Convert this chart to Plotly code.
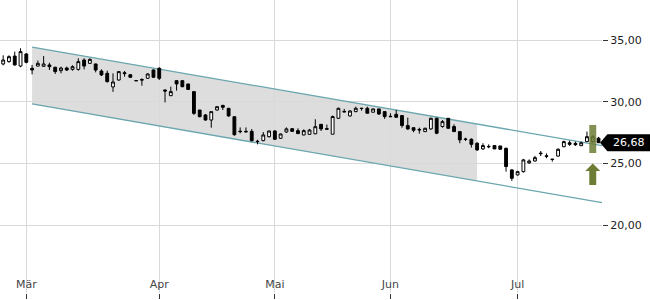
import plotly.graph_objects as go

# ---- data (trading-day index 0..103) ----
opens = [33.06,33.25,33.70,32.89,33.87,32.71,32.89,32.87,32.98,32.79,
         32.52,32.73,32.62,32.62,33.38,33.11,33.06,32.49,32.30,31.20,
         31.76,32.35,32.19,31.72,31.80,31.90,32.57,32.71,30.95,30.49,
         31.71,31.71,31.44,30.82,29.33,28.93,28.52,29.33,29.70,29.47,
         28.79,27.62,27.60,27.60,26.80,26.85,27.17,27.63,27.04,27.55,
         27.82,27.66,27.31,27.36,27.40,28.17,27.82,27.37,28.66,29.22,
         28.85,29.20,29.48,29.47,29.15,29.42,29.20,28.82,28.98,28.88,
         28.07,27.90,27.76,27.58,27.80,28.66,27.99,28.66,27.99,27.58,
         26.98,26.96,26.64,26.18,26.38,26.45,26.42,26.23,24.48,24.07,
         24.34,25.05,25.20,25.84,25.62,25.35,25.60,26.36,26.68,26.63,
         26.44,26.77,26.77,27.05]
highs = [33.76,33.76,34.06,34.33,33.92,32.98,33.33,33.70,33.16,32.84,
         32.84,32.84,32.95,33.52,33.52,33.52,33.08,32.62,32.52,32.30,
         32.49,32.49,32.19,31.74,31.90,32.30,32.62,32.79,31.00,31.22,
         31.71,31.71,31.44,30.82,29.33,29.01,29.20,29.65,29.76,29.47,
         28.79,27.92,27.92,27.79,26.92,27.55,27.66,27.70,27.42,27.92,
         27.85,27.85,27.76,27.80,28.58,28.17,28.15,28.88,29.52,29.42,
         29.33,29.60,29.48,29.60,29.42,29.42,29.20,29.07,29.33,28.88,
         28.71,27.90,27.90,27.90,28.71,28.71,28.52,28.66,28.17,27.58,
         27.09,27.04,26.72,26.64,26.55,26.45,26.42,26.28,24.53,24.40,
         25.37,25.33,25.61,26.01,25.82,25.35,26.23,26.85,26.85,26.77,
         26.77,27.58,27.30,27.15]
lows = [32.95,33.16,32.92,32.79,33.11,32.22,32.87,32.85,32.57,32.25,
        32.30,32.49,32.52,32.52,32.62,33.06,32.38,32.08,31.55,30.80,
        31.70,32.03,31.92,31.68,31.30,31.86,31.95,31.76,29.95,30.46,
        30.90,31.17,30.95,28.93,28.74,28.47,27.90,29.28,29.33,28.79,
        27.25,27.44,27.50,26.78,26.55,26.80,27.10,26.90,27.00,27.48,
        27.58,27.38,27.28,27.33,27.38,27.63,27.76,27.37,28.60,29.15,
        28.80,29.15,29.28,29.07,29.15,28.93,28.61,28.78,28.74,27.90,
        27.72,27.53,27.42,27.55,27.72,27.37,27.90,27.80,27.58,26.64,
        26.82,26.29,26.02,26.10,26.23,26.18,26.15,24.34,23.59,24.02,
        24.26,24.96,25.15,25.60,25.42,25.15,25.55,26.31,26.42,26.42,
        26.42,26.77,26.70,26.66]
closes = [33.38,33.65,32.98,34.06,33.19,32.57,33.11,33.06,32.84,32.44,
          32.73,32.57,32.84,33.25,32.89,33.43,32.57,32.17,31.63,31.60,
          32.44,32.28,31.98,31.70,31.76,32.25,31.98,31.90,30.87,30.82,
          31.44,31.22,31.00,29.06,28.79,28.52,29.20,29.60,29.55,28.85,
          27.33,27.58,27.57,26.85,26.77,27.31,27.63,26.96,27.39,27.80,
          27.60,27.42,27.66,27.71,27.98,27.80,27.78,28.80,29.47,29.18,
          29.25,29.47,29.45,29.07,29.42,29.01,28.80,28.79,28.74,28.07,
          27.80,27.69,27.72,27.85,28.66,27.45,28.39,27.85,27.58,26.91,
          26.95,26.55,26.10,26.45,26.36,26.18,26.15,24.75,23.80,24.34,
          25.29,25.20,25.47,25.80,25.58,25.33,26.15,26.77,26.55,26.52,
          26.68,27.17,27.17,26.68]

month_pos = [4, 27, 47, 67, 89]
month_labels = ["Mär", "Apr", "Mai", "Jun", "Jul"]
price_ticks = [15, 20, 25, 30, 35]
price_labels = ["15,00", "20,00", "25,00", "30,00", "35,00"]

# trend channel (index, value)
channel_x = [5, 103.6]
channel_upper = [34.43, 26.44]
channel_lower = [29.82, 21.83]
shade_x = [5, 82]
shade_upper = [34.43, 28.19]
shade_lower = [29.82, 23.58]

last_price = 26.68
last_label = "26,68"
signal_idx = 102
signal_box = [25.85, 28.12]
arrow_tip = 25.0

x = list(range(len(opens)))

GRID = "#d9d9d9"
CHAN = "#6aa6ae"
OLIVE = "#6d7d36"

fig = go.Figure()

fig.add_trace(go.Candlestick(
    x=x, open=opens, high=highs, low=lows, close=closes,
    increasing=dict(fillcolor="white", line=dict(color="black", width=1)),
    decreasing=dict(fillcolor="black", line=dict(color="black", width=1)),
    whiskerwidth=0, showlegend=False, hoverinfo="skip"))

# shaded channel (below gridlines)
spath = (f"M {shade_x[0]},{shade_upper[0]} L {shade_x[1]},{shade_upper[1]} "
         f"L {shade_x[1]},{shade_lower[1]} L {shade_x[0]},{shade_lower[0]} Z")
fig.add_shape(type="path", xref="x", yref="y", path=spath,
              fillcolor="#dddddd", line=dict(width=0), layer="below")

for ys in (channel_upper, channel_lower):
    fig.add_shape(type="line", xref="x", yref="y",
                  x0=channel_x[0], y0=ys[0], x1=channel_x[1], y1=ys[1],
                  line=dict(color=CHAN, width=1.3), layer="between")

# signal marker (bar)
fig.add_shape(type="rect", xref="x", yref="y",
              x0=signal_idx - 0.6, x1=signal_idx + 0.6,
              y0=signal_box[0], y1=signal_box[1],
              fillcolor="rgba(109,125,54,0.85)", line=dict(width=0), layer="above")

# up arrow
hx, sx = 1.3, 0.6
head = arrow_tip - 0.6
bottom = arrow_tip - 1.75
path = (f"M {signal_idx},{arrow_tip} L {signal_idx-hx},{head} L {signal_idx-sx},{head} "
        f"L {signal_idx-sx},{bottom} L {signal_idx+sx},{bottom} L {signal_idx+sx},{head} "
        f"L {signal_idx+hx},{head} Z")
fig.add_shape(type="path", xref="x", yref="y", path=path,
              fillcolor=OLIVE, line=dict(width=0), layer="above")

# price label
h = 0.69
lpath = (f"M 0.9967,{last_price} L 1.009,{last_price+h} L 1.09,{last_price+h} "
         f"L 1.09,{last_price-h} L 1.009,{last_price-h} Z")
fig.add_shape(type="path", xref="paper", yref="y", path=lpath,
              fillcolor="black", line=dict(width=0), layer="above")
fig.add_annotation(xref="paper", yref="y", x=1.0449, y=last_price, text=last_label,
                   showarrow=False, font=dict(color="white", size=11, family="DejaVu Sans"),
                   xanchor="center", yanchor="middle")

fig.update_layout(
    width=650, height=300,
    margin=dict(l=0, r=48, t=0, b=7),
    paper_bgcolor="white", plot_bgcolor="white",
    font=dict(family="DejaVu Sans", size=11, color="#222"),
    showlegend=False,
    xaxis=dict(range=[-0.55, 103.6], tickvals=month_pos, ticktext=month_labels,
               showgrid=True, gridcolor=GRID, gridwidth=1, zeroline=False,
               ticks="outside", ticklen=5, tickcolor="#333",
               ticklabelposition="inside", showline=False,
               rangeslider=dict(visible=False), fixedrange=True),
    yaxis=dict(side="right", range=[14.51, 38.24], tickvals=price_ticks, ticktext=price_labels,
               showgrid=True, gridcolor=GRID, gridwidth=1, zeroline=False,
               ticks="outside", ticklen=5, tickcolor="#333", showline=False),
)

fig.write_html("out.html")
